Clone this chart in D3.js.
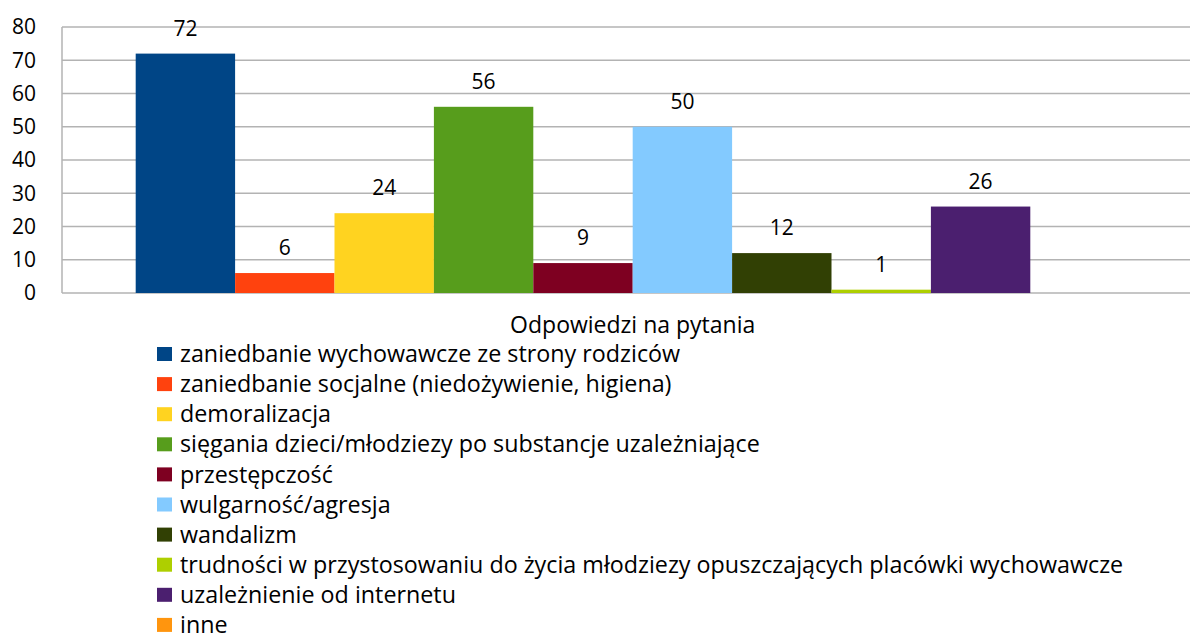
<!DOCTYPE html>
<meta charset="utf-8">
<head>
    <script src="https://d3js.org/d3.v7.min.js"></script>
    <style>
        body { margin: 0; background: #fff; }
        text { font-family: "Open Sans", sans-serif; fill: #000; }
    </style>
</head>
<body>
<div id="chartContainer"></div>
</body>
<script type="text/javascript">

    var category = "Odpowiedzi na pytania";
    var seriesNames = [
        "zaniedbanie wychowawcze ze strony rodziców",
        "zaniedbanie socjalne (niedożywienie, higiena)",
        "demoralizacja",
        "sięgania dzieci/młodziezy po substancje uzależniające",
        "przestępczość",
        "wulgarność/agresja",
        "wandalizm",
        "trudności w przystosowaniu do życia młodziezy opuszczających placówki wychowawcze",
        "uzależnienie od internetu",
        "inne"
    ];
    var values = [72, 6, 24, 56, 9, 50, 12, 1, 26, 0];
    var colors = ["#004586", "#ff420e", "#ffd320", "#579d1c", "#7e0021",
                  "#83caff", "#314004", "#aecf00", "#4b1f6f", "#ff950e"];
    var yTicks = [0, 10, 20, 30, 40, 50, 60, 70, 80];

    var width = 1191, height = 635;
    var plotLeft = 62, plotRight = 1190, plotTop = 27, plotBottom = 293;

    var svg = d3.select("#chartContainer").append("svg")
        .attr("width", width)
        .attr("height", height);

    var y = d3.scaleLinear().domain([0, 80]).range([plotBottom, plotTop]);

    // one category, bars side by side inside it
    var x0 = d3.scaleBand().domain([category]).range([plotLeft, plotRight])
        .paddingInner(0).paddingOuter(0.0674).align(0.55);
    var x1 = d3.scaleBand().domain(seriesNames).range([0, x0.bandwidth()]);

    // gridlines
    svg.append("g")
        .selectAll("line")
        .data(yTicks)
        .join("line")
        .attr("x1", plotLeft)
        .attr("x2", plotRight)
        .attr("y1", function (d) { return y(d); })
        .attr("y2", function (d) { return y(d); })
        .attr("stroke", "#b3b3b3")
        .attr("stroke-width", 1.5);

    // y axis line
    svg.append("line")
        .attr("x1", plotLeft).attr("x2", plotLeft)
        .attr("y1", plotTop).attr("y2", plotBottom)
        .attr("stroke", "#b3b3b3")
        .attr("stroke-width", 1.5);

    // tick labels
    svg.append("g")
        .selectAll("text")
        .data(yTicks)
        .join("text")
        .attr("x", 36)
        .attr("y", function (d) { return y(d); })
        .attr("dy", "0.35em")
        .style("text-anchor", "end")
        .style("font-size", "21px")
        .text(function (d) { return d; });

    var data = seriesNames.map(function (name, i) {
        return {name: name, value: values[i], color: colors[i]};
    });

    var gBars = svg.append("g")
        .attr("transform", "translate(" + x0(category) + ",0)");

    gBars.selectAll("rect")
        .data(data)
        .join("rect")
        .attr("x", function (d) { return x1(d.name); })
        .attr("y", function (d) { return y(d.value); })
        .attr("width", x1.bandwidth())
        .attr("height", function (d) { return y(0) - y(d.value); })
        .attr("fill", function (d) { return d.color; });

    // value labels (no label for zero)
    gBars.selectAll("text")
        .data(data.filter(function (d) { return d.value > 0; }))
        .join("text")
        .attr("x", function (d) { return x1(d.name) + x1.bandwidth() / 2; })
        .attr("y", function (d) { return y(d.value) - 18; })
        .style("text-anchor", "middle")
        .style("font-size", "21px")
        .text(function (d) { return d.value; });

    // category label
    svg.append("text")
        .attr("x", x0(category) + x0.bandwidth() / 2)
        .attr("y", 333)
        .style("text-anchor", "middle")
        .style("font-size", "23px")
        .text(category);

    // legend
    var legend = svg.append("g")
        .selectAll("g")
        .data(data)
        .join("g")
        .attr("transform", function (d, i) { return "translate(157," + (354 + i * 30.1) + ")"; });

    legend.append("rect")
        .attr("x", 0)
        .attr("y", -7)
        .attr("width", 15)
        .attr("height", 14)
        .attr("fill", function (d) { return d.color; });

    legend.append("text")
        .attr("x", 23)
        .attr("y", 0)
        .attr("dy", "0.35em")
        .style("font-size", "23.3px")
        .text(function (d) { return d.name; });

</script>
</html>
